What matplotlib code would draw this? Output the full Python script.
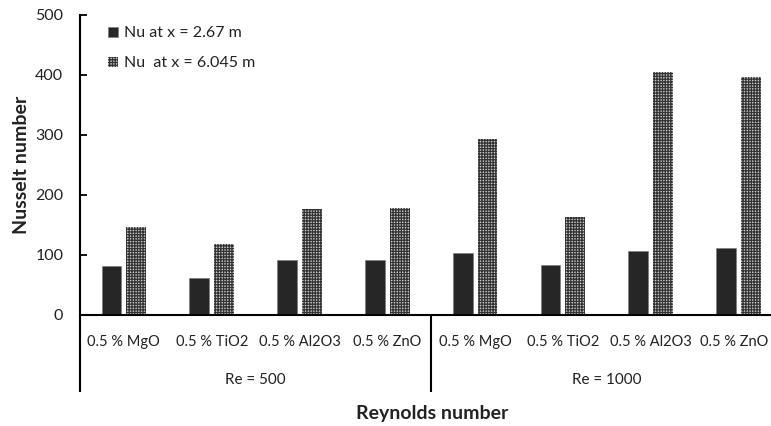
import matplotlib
matplotlib.use("Agg")
import matplotlib.pyplot as plt
import matplotlib.transforms as mtransforms
import numpy as np

plt.rcParams['font.family'] = ['Lato', 'DejaVu Sans']
plt.rcParams['hatch.linewidth'] = 0.9

# Nanofluid cases grouped by Reynolds number
categories = ['0.5 % MgO', '0.5 % TiO2', '0.5 % Al2O3', '0.5 % ZnO',
              '0.5 % MgO', '0.5 % TiO2', '0.5 % Al2O3', '0.5 % ZnO']
groups = ['Re = 500', 'Re = 1000']
nu_x1 = [82, 62, 91, 92, 103, 84, 107, 111]       # Nu at x = 2.67 m
nu_x2 = [147, 118, 176, 178, 293, 163, 405, 396]  # Nu at x = 6.045 m
series_labels = ['Nu at x = 2.67 m', 'Nu  at x = 6.045 m']
yticks = [0, 100, 200, 300, 400, 500]

fig = plt.figure(figsize=(7.71, 4.26), dpi=100)
ax = fig.add_axes([80 / 771, 111 / 426, 1 - 80 / 771, 300 / 426])

x = np.arange(len(categories))
w = 0.225
off = 0.142
ax.bar(x - off, nu_x1, width=w, color='#262626', edgecolor='#777777',
       linewidth=0.4, label=series_labels[0], zorder=2)
ax.bar(x + off, nu_x2, width=w, color='#c8c8c8', edgecolor='#333333',
       linewidth=0, hatch='++++++', label=series_labels[1], zorder=2)

ax.set_xlim(-0.5, 7.37)
ax.set_ylim(0, 500)
ax.set_yticks(yticks)
ax.set_xticks([])
ax.tick_params(axis='y', direction='in', length=5, width=1.3, pad=12,
               labelsize=11.5, labelcolor='#222222')
for s in ['top', 'right']:
    ax.spines[s].set_visible(False)
ax.spines['left'].set_linewidth(1.5)
ax.spines['bottom'].set_linewidth(1.5)

# Two-level category axis below the plot
trans = mtransforms.blended_transform_factory(ax.transData, ax.transAxes)
for xi, lab in zip(x, categories):
    # keep the right-most label inside the figure edge
    xpos = xi - 0.05 if xi == x[-1] else xi
    ax.text(xpos, -0.09, lab, transform=trans, ha='center', va='center',
            fontsize=10.5, color='#222222')
for gi, g in enumerate(groups):
    ax.text(1.5 + 4 * gi, -0.218, g, transform=trans, ha='center', va='center',
            fontsize=11, color='#222222')
for xs in [-0.5, 3.5]:
    ax.plot([xs, xs], [0, -0.257], transform=trans, color='black', lw=1.5,
            clip_on=False, solid_capstyle='butt')

fig.text(432 / 771, 1 - 413 / 426, 'Reynolds number', ha='center', va='center',
         fontsize=14, fontweight='bold', color='#222222')
fig.text(22 / 771, 1 - 165 / 426, 'Nusselt number', ha='center', va='center',
         rotation=90, fontsize=14, fontweight='bold', color='#222222')

ax.legend(loc='upper left', bbox_to_anchor=(0.02, 1.01), frameon=False,
          handlelength=0.6, handleheight=0.6, handletextpad=0.4,
          labelspacing=1.0, fontsize=11.5, labelcolor='#222222')

fig.savefig('out.png', dpi=100)
